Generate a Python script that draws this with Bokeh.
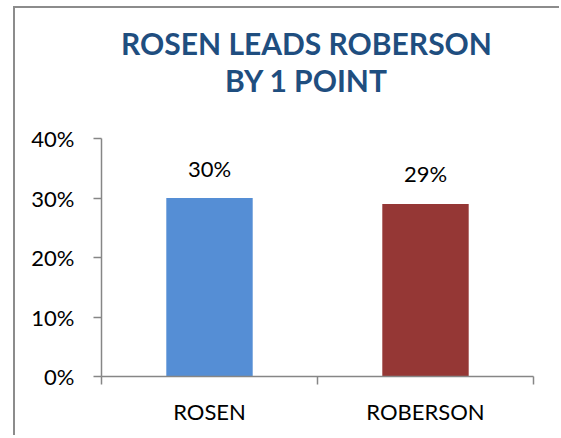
from bokeh.plotting import figure
from bokeh.models import Range1d, FixedTicker, NumeralTickFormatter, Label, ColumnDataSource
from bokeh.core.properties import value
from bokeh.embed import file_html
from bokeh.resources import INLINE

# ---- data ----
categories = ["ROSEN", "ROBERSON"]
values = [0.30, 0.29]
colors = ["#558ED5", "#953735"]
value_labels = ["30%", "29%"]
y_ticks = [0, 0.1, 0.2, 0.3, 0.4]
y_max = 0.4
title_lines = ["ROSEN LEADS ROBERSON", "BY 1 POINT"]

FONT = "Lato"
AXIS_COLOR = "#868686"

# ---- layout (pixels) ----
W, H = 546, 429
LEFT, RIGHT, BOTTOM = 86, 28, 61
AXIS_TOP = 130          # pixel distance from figure top to the 40% level
frame_h = H - BOTTOM
axis_h = frame_h - AXIS_TOP

centers = [i + 0.5 for i in range(len(categories))]
src = ColumnDataSource(dict(x=centers, top=values, color=colors, label=value_labels))

p = figure(width=W, height=H, output_backend="svg", toolbar_location=None,
           x_range=Range1d(0, len(categories)),
           y_range=Range1d(0, y_max * frame_h / axis_h),
           min_border_left=LEFT, min_border_right=RIGHT, min_border_top=0, min_border_bottom=BOTTOM)
p.outline_line_color = None
p.xgrid.grid_line_color = None
p.ygrid.grid_line_color = None
p.background_fill_color = "white"
p.border_fill_color = "white"
p.styles = {"border-left": "2px solid #8c8c8c", "border-top": "2px solid #8c8c8c",
            "margin-left": "13px", "margin-top": "6px"}

p.vbar(x="x", top="top", width=0.4, bottom=0, color="color", line_color=None, source=src)
p.text(x="x", y="top", text="label", source=src, y_offset=-30,
       text_align="center", text_baseline="alphabetic",
       text_font_size="22px", text_color="#000000", text_font=value(FONT))

# y axis
yax = p.yaxis[0]
yax.bounds = (0, y_max)
yax.ticker = FixedTicker(ticks=y_ticks)
yax.formatter = NumeralTickFormatter(format="0%")
yax.axis_line_color = AXIS_COLOR
yax.axis_line_width = 1.5
yax.major_tick_line_color = AXIS_COLOR
yax.major_tick_line_width = 1.5
yax.major_tick_in = 0
yax.major_tick_out = 8
yax.minor_tick_line_color = None
yax.major_label_text_font = FONT
yax.major_label_text_font_size = "22px"
yax.major_label_text_color = "#000000"
yax.major_label_standoff = 19

# x axis: labels at category centres, ticks at boundaries
xax = p.xaxis[0]
xax.ticker = FixedTicker(ticks=centers, minor_ticks=list(range(len(categories) + 1)))
xax.major_label_overrides = {c: name for c, name in zip(centers, categories)}
xax.axis_line_color = AXIS_COLOR
xax.axis_line_width = 1.5
xax.major_tick_line_color = None
xax.minor_tick_line_color = AXIS_COLOR
xax.minor_tick_line_width = 1.5
xax.minor_tick_in = 0
xax.minor_tick_out = 8
xax.major_label_text_font = FONT
xax.major_label_text_font_size = "22px"
xax.major_label_text_color = "#000000"
xax.major_label_standoff = 13

# title (two lines), positioned in screen pixels from frame bottom-left
title_y = [frame_h - 34, frame_h - 71]
for line, ty in zip(title_lines, title_y):
    p.add_layout(Label(x=205, y=ty, x_units="screen", y_units="screen",
                       text=line, text_align="center", text_baseline="alphabetic",
                       text_font=FONT, text_font_style="bold", text_font_size="30px",
                       text_color="#1F4E7F"))

open("out.html", "w").write(file_html(p, INLINE))
